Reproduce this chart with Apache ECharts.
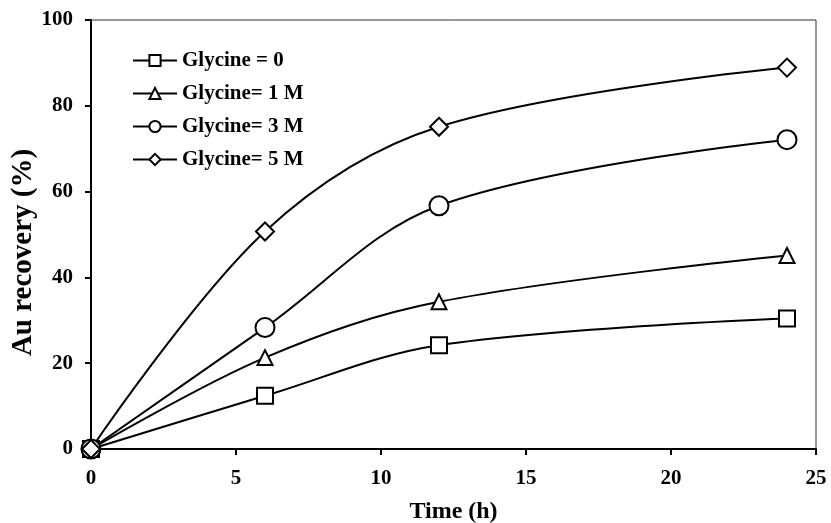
<!DOCTYPE html>
<html>
<head>
<meta charset="utf-8">
<script src="https://cdn.jsdelivr.net/npm/echarts@6/dist/echarts.min.js"></script>
<style>
  html, body { margin: 0; padding: 0; background: #fff; }
  #chartBox { width: 831px; height: 523px; }
</style>
</head>
<body>
<div id="chartBox"></div>
<script>
// time points (h)
const time = [0, 6, 12, 24];

// Au recovery (%) for each glycine level
const gly0 = [0, 12.4, 24.2, 30.4];
const gly1 = [0, 21.3, 34.3, 45.1];
const gly3 = [0, 28.3, 56.7, 72.1];
const gly5 = [0, 50.7, 75.1, 88.9];

const names = ['Glycine = 0', 'Glycine= 1 M', 'Glycine= 3 M', 'Glycine= 5 M'];

const font = 'Liberation Serif, Times New Roman, serif';

function pairs(ys) {
    return time.map((t, i) => [t, ys[i]]);
}

function makeSeries(name, ys, symbol, size) {
    return {
        name: name,
        type: 'line',
        data: pairs(ys),
        smooth: 0.35,
        symbol: symbol,
        symbolSize: size,
        clip: false,
        lineStyle: { color: '#000', width: 2 },
        itemStyle: { color: '#fff', borderColor: '#000', borderWidth: 2 },
        emphasis: { disabled: true }
    };
}

const chart = echarts.init(document.getElementById('chartBox'));

const option = {
    animation: false,
    backgroundColor: '#fff',
    grid: {
        left: 91, right: 15, top: 20, bottom: 74,
        outerBoundsMode: 'none',
        containLabel: false,
        show: true,
        borderColor: '#333',
        borderWidth: 1
    },
    legend: {
        orient: 'vertical',
        left: 127,
        top: 45,
        itemWidth: 44,
        itemHeight: 14,
        itemGap: 12,
        data: names,
        textStyle: { fontFamily: font, fontWeight: 'bold', fontSize: 21, color: '#000' }
    },
    xAxis: {
        type: 'value',
        min: 0, max: 25, interval: 5,
        name: 'Time (h)',
        nameLocation: 'middle',
        nameGap: 51,
        nameMoveOverlap: false,
        nameTextStyle: { fontFamily: font, fontWeight: 'bold', fontSize: 24, color: '#000' },
        axisLine: { show: true, lineStyle: { color: '#000', width: 2 } },
        axisTick: { show: true, inside: false, length: 6, lineStyle: { color: '#000', width: 2 } },
        axisLabel: { fontFamily: font, fontWeight: 'bold', fontSize: 21, color: '#000', margin: 19 },
        splitLine: { show: false }
    },
    yAxis: {
        type: 'value',
        min: 0, max: 100, interval: 20,
        name: 'Au recovery (%)',
        nameLocation: 'middle',
        nameGap: 53,
        nameRotate: 90,
        nameMoveOverlap: false,
        nameTextStyle: {
            fontFamily: font, fontWeight: 'bold', fontSize: 29, color: '#000',
            padding: [0, 36, 0, 0]
        },
        axisLine: { show: true, lineStyle: { color: '#000', width: 2 } },
        axisTick: { show: true, inside: false, length: 6, lineStyle: { color: '#000', width: 2 } },
        axisLabel: { fontFamily: font, fontWeight: 'bold', fontSize: 21, color: '#000', margin: 18 },
        splitLine: { show: false }
    },
    series: [
        makeSeries(names[0], gly0, 'rect', 16),
        makeSeries(names[1], gly1, 'triangle', 15),
        makeSeries(names[2], gly3, 'circle', 19),
        makeSeries(names[3], gly5, 'diamond', 18)
    ]
};

chart.setOption(option);
</script>
</body>
</html>
